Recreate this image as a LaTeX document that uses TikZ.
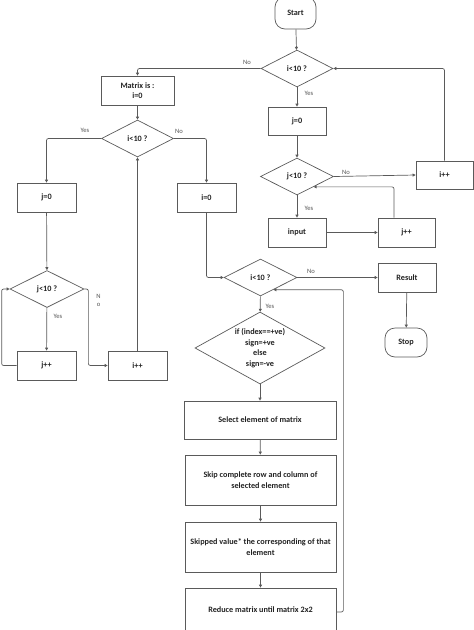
\documentclass[tikz,border=0pt]{standalone}
\usepackage{fontspec}
\setmainfont{Carlito}
\usetikzlibrary{shapes.geometric,arrows.meta,calc}
\definecolor{linec}{HTML}{5A5A5A}
\definecolor{txtc}{HTML}{222222}
\definecolor{lblc}{HTML}{555555}
\tikzset{
  base/.style={draw=linec, line width=0.7pt, text=txtc, inner sep=0pt, align=center,
    font=\bfseries\fontsize{8.2}{10.6}\selectfont},
  box/.style={base, rectangle, minimum width=#1, minimum height=29pt},
  term/.style={base, rectangle, rounded corners=10pt, minimum width=42pt, minimum height=29pt},
  dec/.style={base, diamond, minimum width=73pt, minimum height=37pt},
  conn/.style={draw=linec, line width=0.7pt, rounded corners=2pt, -{Triangle[length=3pt,width=3pt]}},
  lbl/.style={text=lblc, font=\fontsize{6.6}{7}\selectfont, inner sep=0pt},
  dtext/.style={text=txtc, inner sep=0pt, align=center, font=\bfseries\fontsize{8.2}{10.6}\selectfont}
}
\begin{document}
\begin{tikzpicture}[x=1pt,y=-1pt]
\useasboundingbox (0,0) rectangle (474,630);
% nodes
\node[term, minimum height=32pt, minimum width=41pt] (start) at (295.5,13) {Start};
\node[dec, minimum width=72pt] (d1) at (297,68.5) {i\textless10 ?};
\node[box=73pt] (matrix) at (137.5,90.5) {Matrix is :\\i=0};
\node[box=58pt, minimum height=28pt] (j0a) at (297,121) {j=0};
\node[dec] (d2) at (297,176.5) {j\textless10 ?};
\node[box=57pt, minimum height=28pt] (ipp1) at (444.5,175) {i++};
\node[box=58pt] (input) at (297,232.5) {input};
\node[box=57pt] (jpp1) at (406.5,232.5) {j++};
\node[dec, minimum width=72pt] (d3) at (137.5,138.5) {i\textless10 ?};
\node[box=59pt] (j0b) at (46.5,197.5) {j=0};
\node[box=59pt] (i0) at (206.5,197.5) {i=0};
\node[dec, minimum width=74pt] (d4) at (47,289) {j\textless10 ?};
\node[box=59pt] (jpp2) at (46.5,365.5) {j++};
\node[box=59pt] (ipp2) at (137.5,365.5) {i++};
\node[dec] (d5) at (260.5,277.5) {i\textless10 ?};
\node[box=58pt] (result) at (407,277.5) {Result};
\node[term] (stop) at (406,342.5) {Stop};
\node[dec, minimum width=130pt, minimum height=72pt] (d6) at (260,348) {};
\node[dtext] (d6t) at (d6.center) {if (index==+ve)\\sign=+ve\\else\\sign=-ve};
\node[box=152pt, minimum height=38pt] (select) at (260,420) {Select element of matrix};
\node[box=151pt, minimum height=50pt] (skip) at (260.5,480) {Skip complete row and column of\\selected element};
\node[box=151pt, minimum height=50pt] (skipped) at (260.5,547) {Skipped value* the corresponding of that\\element};
\node[box=151pt, minimum height=44pt] (reduce) at (260.5,610) {Reduce matrix until matrix 2x2};
% coordinates
\coordinate (d2in) at ($(d2.east)!0.55!(d2.south)$);
\coordinate (d5in) at ($(d5.east)!0.65!(d5.south)$);
\coordinate (jpp1top) at ([xshift=-12.5pt]jpp1.north);
\coordinate (rloop) at ([yshift=-2pt]reduce.east);
% connectors
\draw[conn] (start) -- (d1);
\draw[conn] (d1.west) -| (matrix.north);
\draw[conn] (d1) -- (j0a);
\draw[conn] (j0a) -- (d2);
\draw[conn] (d2.east) -- (ipp1.west);
\draw[conn] (ipp1.north) |- (d1.east);
\draw[conn] (d2) -- (input);
\draw[conn] (input) -- (jpp1);
\draw[conn] (jpp1top) |- (d2in);
\draw[conn] (matrix) -- (d3);
\draw[conn] (d3.west) -| (j0b.north);
\draw[conn] (d3.east) -| (i0.north);
\draw[conn] (j0b) -- (d4);
\draw[conn] (d4) -- (jpp2);
\draw[conn] (jpp2.west) -- ++(-15,0) |- (d4.west);
\draw[conn] (d4.east) -- ++(4,0) |- (ipp2.west);
\draw[conn] (ipp2) -- (d3);
\draw[conn] (i0.south) |- (d5.west);
\draw[conn] (d5.east) -- (result.west);
\draw[conn] (result) -- (stop);
\draw[conn] (d5) -- (d6);
\draw[conn] (d6) -- (select);
\draw[conn] (select) -- (skip);
\draw[conn] (skip) -- (skipped);
\draw[conn] (skipped) -- (reduce);
\draw[conn] (rloop) -- ++(7,0) |- (d5in);
% labels
\node[lbl] (l1) at (247,62) {No};
\node[lbl] (l2) at (309,93) {Yes};
\node[lbl] (l3) at (346,172) {No};
\node[lbl] (l4) at (309,208) {Yes};
\node[lbl] (l5) at (85,130.5) {Yes};
\node[lbl] (l6) at (179,131) {No};
\node[lbl] (l7) at (58,316) {Yes};
\node[lbl] (l8) at (98.5,296) {N};
\node[lbl] (l9) at (98.5,305) {o};
\node[lbl] (l10) at (311,271) {No};
\node[lbl] (l11) at (270,306) {Yes};
\end{tikzpicture}
\end{document}
